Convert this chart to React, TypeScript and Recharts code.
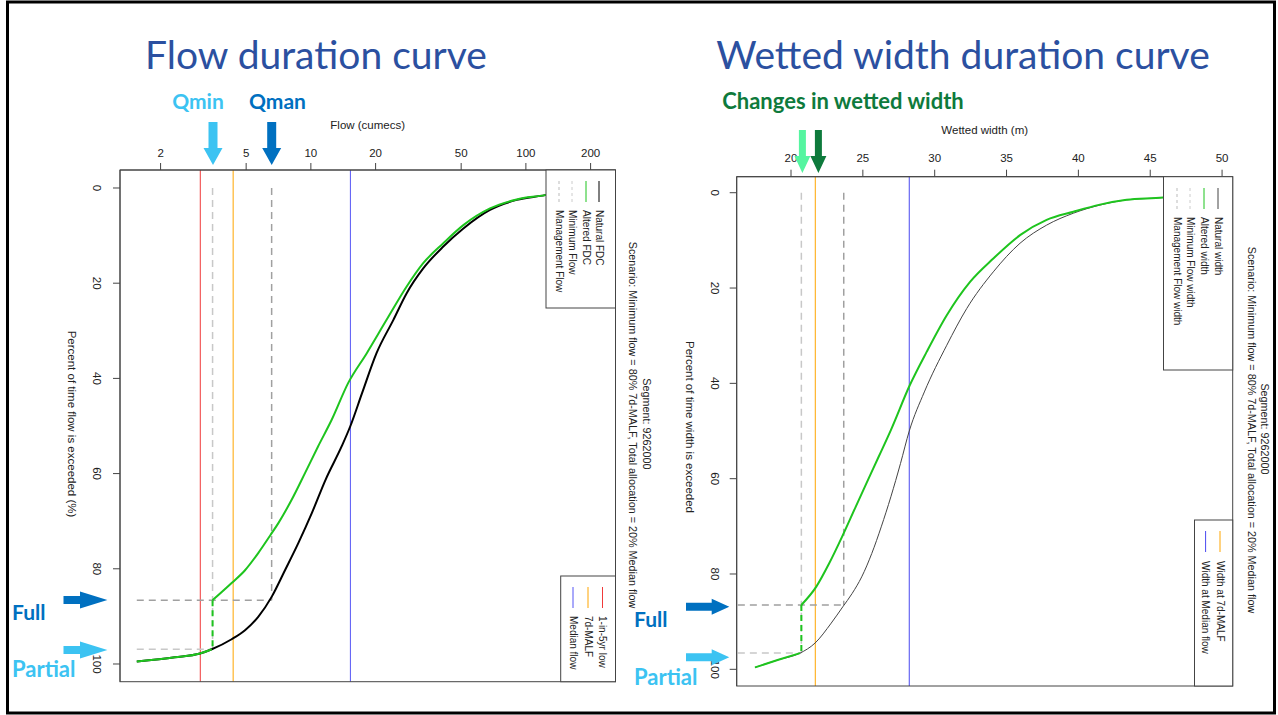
import React from 'react';
import { LineChart, Line, XAxis, YAxis, ReferenceLine } from 'recharts';

const R_FONT = '"Liberation Sans", Arial, Helvetica, sans-serif';
const SLIDE_FONT = 'Lato, "Open Sans", sans-serif';

// ---------- Flow duration curve (percent of time exceeded, flow in cumecs)
const flowTicks = [2, 5, 10, 20, 50, 100, 200];
const exceedTicks = [0, 20, 40, 60, 80, 100];

const naturalFdc: [number, number][] = [
  [0.3, 160], [1.5, 122.7], [2.5, 90.6], [4.6, 68.1], [8.5, 51.2], [12.3, 41.3],
  [16.9, 33.3], [22.1, 27.9], [27.7, 24.2], [34.7, 20.2], [43.1, 17.3], [50.0, 15.27],
  [54.3, 13.9], [61.3, 11.7], [68.3, 10.1], [74.6, 8.74], [80.3, 7.58], [85.9, 6.57],
  [90.1, 5.69], [92.9, 4.94], [94.8, 4.28], [96.9, 3.46], [97.8, 3.05], [98.6, 2.33], [99.5, 1.55],
];
const alteredFdc: [number, number][] = [
  [0.3, 160], [1.5, 122.7], [2.4, 90.6], [4.3, 68.1], [7.8, 51.2], [11.6, 41.3],
  [15.8, 33.3], [20.7, 27.9], [27.7, 22.5], [34.7, 18.2], [41.0, 14.9], [48.7, 12.5],
  [54.3, 10.8], [59.9, 9.39], [65.5, 8.14], [70.4, 7.06], [72.9, 6.49], [76.7, 5.69],
  [80.3, 4.94], [83.0, 4.28], [86.6, 3.49],
];
const alteredFdcStep: [number, number][] = [[86.6, 3.49], [96.9, 3.49]];
const alteredFdcLow: [number, number][] = [[96.9, 3.46], [97.8, 3.05], [98.6, 2.33], [99.5, 1.55]];

const oneInFiveLow = 3.06;
const sevenDayMalf = 4.35;
const medianFlow = 15.27;
const minimumFlow = 3.49;
const managementFlow = 6.57;
const minimumFlowExceed = 96.9;
const managementFlowExceed = 86.6;
const flowGuideStart = 1.55;

// ---------- Wetted width duration curve (percent of time exceeded, width in m)
const widthTicks = [20, 25, 30, 35, 40, 45, 50];

const naturalWidth: [number, number][] = [
  [0.3, 47.5], [1.0, 45.9], [1.5, 43.36], [2.6, 41.5], [4.3, 39.65], [6.8, 37.79],
  [10.6, 35.94], [16.6, 34.08], [24.3, 32.23], [32.0, 30.84], [41.8, 29.28], [50.0, 28.23],
  [56.8, 27.62], [63.8, 26.95], [70.1, 26.28], [75.7, 25.62], [80.6, 24.92], [84.1, 24.25],
  [86.9, 23.6], [90.3, 22.8], [94.5, 21.67], [96.6, 20.63], [98.0, 19.12], [99.6, 17.49],
];
const alteredWidth: [number, number][] = [
  [0.3, 47.5], [1.0, 45.9], [1.5, 43.36], [2.5, 41.5], [4.0, 39.65], [5.7, 37.79],
  [8.9, 35.94], [13.8, 34.08], [18.7, 32.46], [25.7, 30.84], [33.4, 29.44], [40.3, 28.28],
  [49.8, 26.95], [55.4, 26.1], [60.3, 25.35], [65.9, 24.5], [72.2, 23.55], [77.8, 22.65],
  [82.7, 21.75], [86.5, 20.72],
];
const alteredWidthStep: [number, number][] = [[86.5, 20.72], [96.6, 20.72]];
const alteredWidthLow: [number, number][] = [[96.6, 20.63], [98.0, 19.12], [99.6, 17.49]];

const widthAt7dMalf = 21.69;
const widthAtMedian = 28.23;
const minimumFlowWidth = 20.72;
const managementFlowWidth = 23.67;
const minimumWidthExceed = 96.6;
const managementWidthExceed = 86.5;
const widthGuideStart = 16.3;

// ---------- helpers
const asFlow = (rows: [number, number][]) => rows.map(([pct, flow]) => ({ pct, flow }));
const asWidth = (rows: [number, number][]) => rows.map(([pct, width]) => ({ pct, width }));

const rotTick = (cx: number) => (props: any) => {
  const { y, payload } = props;
  return (
    <text x={cx} y={y} transform={`rotate(90 ${cx} ${y})`} textAnchor="middle"
      dominantBaseline="central" fontSize={11.5} fill="#222" fontFamily={R_FONT}>
      {payload.value}
    </text>
  );
};

const downArrow = (cx: number, top: number, headTop: number, tip: number, sw: number, hw: number) =>
  `M${cx - sw / 2},${top} L${cx + sw / 2},${top} L${cx + sw / 2},${headTop} L${cx + hw / 2},${headTop} L${cx},${tip} L${cx - hw / 2},${headTop} L${cx - sw / 2},${headTop} Z`;
const rightArrow = (cy: number, left: number, headLeft: number, tip: number, sh: number, hh: number) =>
  `M${left},${cy - sh / 2} L${headLeft},${cy - sh / 2} L${headLeft},${cy - hh / 2} L${tip},${cy} L${headLeft},${cy + hh / 2} L${headLeft},${cy + sh / 2} L${left},${cy + sh / 2} Z`;

type LegItem = { cx: number; color: string; dash?: string; sw?: number; label: string };
const LegendBox = ({ x, y, w, h, s0, s1, t0, items }: { x: number; y: number; w: number; h: number; s0: number; s1: number; t0: number; items: LegItem[] }) => (
  <g>
    <rect x={x} y={y} width={w} height={h} fill="#fff" stroke="#444" strokeWidth={1} />
    {items.map((it) => (
      <g key={it.label}>
        <line x1={it.cx} x2={it.cx} y1={s0} y2={s1} stroke={it.color} strokeWidth={it.sw ?? 1} strokeDasharray={it.dash} />
        <text x={it.cx} y={t0} transform={`rotate(90 ${it.cx} ${t0})`} fontSize={10} fontFamily={R_FONT}
          fill="#222" dominantBaseline="central">{it.label}</text>
      </g>
    ))}
  </g>
);

const RotText = ({ x, y, size, children, anchor = 'middle' }: any) => (
  <text x={x} y={y} transform={`rotate(90 ${x} ${y})`} textAnchor={anchor} dominantBaseline="central"
    fontSize={size} fontFamily={R_FONT} fill="#222">{children}</text>
);

const DARK_BLUE = '#0070C0';
const LIGHT_BLUE = '#3CC3F2';
const TITLE_BLUE = '#2B50A0';
const GREEN = '#1EC41E';

const lineProps = { dot: false, activeDot: false, isAnimationActive: false } as const;

export default function App() {
  return (
    <div style={{ position: 'absolute', left: 0, top: 0, width: 1278, height: 715, background: '#fff', overflow: 'hidden' }}>
      {/* Flow duration curve */}
      <div style={{ position: 'absolute', left: 0, top: 0 }}>
        <LineChart width={640} height={715} margin={{ top: 140, right: 24.5, bottom: 33.3, left: 80 }}>
          <XAxis orientation="top" type="number" dataKey="flow" scale="log" domain={[1.295, 261.1]}
            allowDataOverflow ticks={flowTicks} interval={0} height={30} tickSize={7} tickMargin={6}
            stroke="#444" tick={{ fontSize: 11.5, fill: '#222', fontFamily: R_FONT }} />
          <YAxis type="number" dataKey="pct" domain={[-3.78, 103.72]} reversed allowDataOverflow
            ticks={exceedTicks} interval={0} width={40} tickSize={7} stroke="#444" tick={rotTick(96.7)} />
          <ReferenceLine x={oneInFiveLow} stroke="#F03A3A" strokeWidth={1} />
          <ReferenceLine x={sevenDayMalf} stroke="#FFA500" strokeWidth={1} />
          <ReferenceLine x={medianFlow} stroke="#5555F5" strokeWidth={1} />
          <Line {...lineProps} data={asFlow([[0, minimumFlow], [minimumFlowExceed, minimumFlow]])} dataKey="pct" stroke="#C8C8C8" strokeWidth={1.5} strokeDasharray="7 5" />
          <Line {...lineProps} data={asFlow([[minimumFlowExceed, flowGuideStart], [minimumFlowExceed, minimumFlow]])} dataKey="pct" stroke="#C8C8C8" strokeWidth={1.5} strokeDasharray="7 5" />
          <Line {...lineProps} data={asFlow([[0, managementFlow], [managementFlowExceed, managementFlow]])} dataKey="pct" stroke="#A0A0A0" strokeWidth={1.5} strokeDasharray="7 5" />
          <Line {...lineProps} data={asFlow([[managementFlowExceed, flowGuideStart], [managementFlowExceed, managementFlow]])} dataKey="pct" stroke="#A0A0A0" strokeWidth={1.5} strokeDasharray="7 5" />
          <Line {...lineProps} type="monotone" data={asFlow(naturalFdc)} dataKey="pct" stroke="#000" strokeWidth={2} />
          <Line {...lineProps} type="monotone" data={asFlow(alteredFdc)} dataKey="pct" stroke={GREEN} strokeWidth={2} />
          <Line {...lineProps} data={asFlow(alteredFdcStep)} dataKey="pct" stroke={GREEN} strokeWidth={2} strokeDasharray="6 4" />
          <Line {...lineProps} type="monotone" data={asFlow(alteredFdcLow)} dataKey="pct" stroke={GREEN} strokeWidth={2} />
        </LineChart>
      </div>

      {/* Wetted width duration curve */}
      <div style={{ position: 'absolute', left: 640, top: 0 }}>
        <LineChart width={638} height={715} margin={{ top: 146.7, right: 45.3, bottom: 29, left: 56.7 }}>
          <XAxis orientation="top" type="number" dataKey="width" domain={[16.22, 50.74]}
            allowDataOverflow ticks={widthTicks} interval={0} height={30} tickSize={7} tickMargin={8}
            stroke="#444" tick={{ fontSize: 11.5, fill: '#222', fontFamily: R_FONT }} />
          <YAxis type="number" dataKey="pct" domain={[-3.36, 103.5]} reversed allowDataOverflow
            ticks={exceedTicks} interval={0} width={40} tickSize={7} stroke="#444" tick={rotTick(75)} />
          <ReferenceLine x={widthAt7dMalf} stroke="#FFA500" strokeWidth={1} />
          <ReferenceLine x={widthAtMedian} stroke="#4848F0" strokeWidth={1} />
          <Line {...lineProps} data={asWidth([[0, minimumFlowWidth], [minimumWidthExceed, minimumFlowWidth]])} dataKey="pct" stroke="#C8C8C8" strokeWidth={1.5} strokeDasharray="7 5" />
          <Line {...lineProps} data={asWidth([[minimumWidthExceed, widthGuideStart], [minimumWidthExceed, minimumFlowWidth]])} dataKey="pct" stroke="#C8C8C8" strokeWidth={1.5} strokeDasharray="7 5" />
          <Line {...lineProps} data={asWidth([[0, managementFlowWidth], [managementWidthExceed, managementFlowWidth]])} dataKey="pct" stroke="#A0A0A0" strokeWidth={1.5} strokeDasharray="7 5" />
          <Line {...lineProps} data={asWidth([[managementWidthExceed, widthGuideStart], [managementWidthExceed, managementFlowWidth]])} dataKey="pct" stroke="#A0A0A0" strokeWidth={1.5} strokeDasharray="7 5" />
          <Line {...lineProps} type="monotone" data={asWidth(naturalWidth)} dataKey="pct" stroke="#444" strokeWidth={1} />
          <Line {...lineProps} type="monotone" data={asWidth(alteredWidth)} dataKey="pct" stroke={GREEN} strokeWidth={2} />
          <Line {...lineProps} data={asWidth(alteredWidthStep)} dataKey="pct" stroke={GREEN} strokeWidth={2} strokeDasharray="6 4" />
          <Line {...lineProps} type="monotone" data={asWidth(alteredWidthLow)} dataKey="pct" stroke={GREEN} strokeWidth={2} />
        </LineChart>
      </div>

      {/* Annotations overlay */}
      <svg width={1278} height={715} style={{ position: 'absolute', left: 0, top: 0, zIndex: 5, pointerEvents: 'none' }}>
        <rect x={7.5} y={2} width={1267} height={711} fill="none" stroke="#000" strokeWidth={3} />

        {/* plot boxes */}
        <rect x={120} y={170} width={495.5} height={511.7} fill="none" stroke="#444" strokeWidth={1} />
        <rect x={736.7} y={176.7} width={496} height={509.3} fill="none" stroke="#444" strokeWidth={1} />

        {/* titles */}
        <text x={316} y={69} textAnchor="middle" fontSize={39} fontFamily={SLIDE_FONT} fill={TITLE_BLUE}>Flow duration curve</text>
        <text x={963} y={69} textAnchor="middle" fontSize={39} fontFamily={SLIDE_FONT} fill={TITLE_BLUE}>Wetted width duration curve</text>

        {/* axis titles */}
        <text x={367.7} y={129} textAnchor="middle" fontSize={11.5} fontFamily={R_FONT} fill="#222">Flow (cumecs)</text>
        <text x={984.7} y={134} textAnchor="middle" fontSize={11.5} fontFamily={R_FONT} fill="#222">Wetted width (m)</text>
        <RotText x={72} y={424} size={11.5}>Percent of time flow is exceeded (%)</RotText>
        <RotText x={690} y={427} size={11.5}>Percent of time width is exceeded</RotText>

        {/* side titles */}
        <RotText x={646.7} y={424} size={10.8}>Segment: 9262000</RotText>
        <RotText x={632.5} y={425} size={10.8}>Scenario: Minimum flow = 80% 7d-MALF, Total allocation = 20% Median flow</RotText>
        <RotText x={1265} y={429} size={10.8}>Segment: 9262000</RotText>
        <RotText x={1251.5} y={430} size={10.8}>Scenario: Minimum flow = 80% 7d-MALF, Total allocation = 20% Median flow</RotText>

        {/* legends */}
        <LegendBox x={546} y={170} w={69.5} h={138} s0={181} s1={202} t0={210} items={[
          { cx: 599, color: '#000', label: 'Natural FDC' },
          { cx: 586, color: GREEN, label: 'Altered FDC' },
          { cx: 572, color: '#CCCCCC', dash: '3 3', label: 'Minimum Flow' },
          { cx: 559, color: '#BBBBBB', dash: '3 3', label: 'Management Flow' },
        ]} />
        <LegendBox x={560.7} y={576} w={54.8} h={105.7} s0={587} s1={608} t0={616} items={[
          { cx: 602.5, color: '#F03A3A', label: '1-in-5yr low' },
          { cx: 588, color: '#FFA500', label: '7d-MALF' },
          { cx: 573, color: '#5555F5', label: 'Median flow' },
        ]} />
        <LegendBox x={1163.5} y={176.7} w={69.2} h={193.3} s0={188} s1={209} t0={217} items={[
          { cx: 1218, color: '#444', label: 'Natural width' },
          { cx: 1204, color: GREEN, label: 'Altered width' },
          { cx: 1190, color: '#CCCCCC', dash: '3 3', label: 'Minimum Flow width' },
          { cx: 1177, color: '#BBBBBB', dash: '3 3', label: 'Management Flow width' },
        ]} />
        <LegendBox x={1194.5} y={520} w={38.2} h={166} s0={531} s1={552} t0={561} items={[
          { cx: 1220, color: '#FFA500', label: 'Width at 7d-MALF' },
          { cx: 1205.6, color: '#4848F0', label: 'Width at Median flow' },
        ]} />

        {/* Q labels and arrows */}
        <text x={198} y={109} textAnchor="middle" fontSize={21} fontWeight={700} fontFamily={SLIDE_FONT} fill={LIGHT_BLUE}>Qmin</text>
        <text x={277.5} y={109} textAnchor="middle" fontSize={21} fontWeight={700} fontFamily={SLIDE_FONT} fill={DARK_BLUE}>Qman</text>
        <path d={downArrow(213, 122, 148, 165, 9, 19)} fill={LIGHT_BLUE} />
        <path d={downArrow(271.7, 122, 148, 165, 9, 19)} fill={DARK_BLUE} />

        <text x={843} y={109} textAnchor="middle" fontSize={22} fontWeight={700} fontFamily={SLIDE_FONT} fill="#0E7A3C">Changes in wetted width</text>
        <path d={downArrow(802.4, 130, 156, 173, 7, 16)} fill="#55F5A0" />
        <path d={downArrow(818.4, 130, 156, 173, 7, 16)} fill="#0E7A3C" />

        {/* Full / Partial */}
        <text x={12} y={620} fontSize={21} fontWeight={700} fontFamily={SLIDE_FONT} fill={DARK_BLUE}>Full</text>
        <text x={12} y={677} fontSize={22} fontWeight={700} fontFamily={SLIDE_FONT} fill={LIGHT_BLUE}>Partial</text>
        <path d={rightArrow(600, 63.5, 80, 107.4, 8, 17)} fill={DARK_BLUE} />
        <path d={rightArrow(650, 63.5, 80, 107.4, 8, 17)} fill={LIGHT_BLUE} />

        <text x={634} y={627} fontSize={21} fontWeight={700} fontFamily={SLIDE_FONT} fill={DARK_BLUE}>Full</text>
        <text x={634} y={685} fontSize={22} fontWeight={700} fontFamily={SLIDE_FONT} fill={LIGHT_BLUE}>Partial</text>
        <path d={rightArrow(606.7, 686, 711.7, 729.3, 8, 16)} fill={DARK_BLUE} />
        <path d={rightArrow(657.3, 686, 711.7, 729.3, 8, 16)} fill={LIGHT_BLUE} />
      </svg>
    </div>
  );
}
